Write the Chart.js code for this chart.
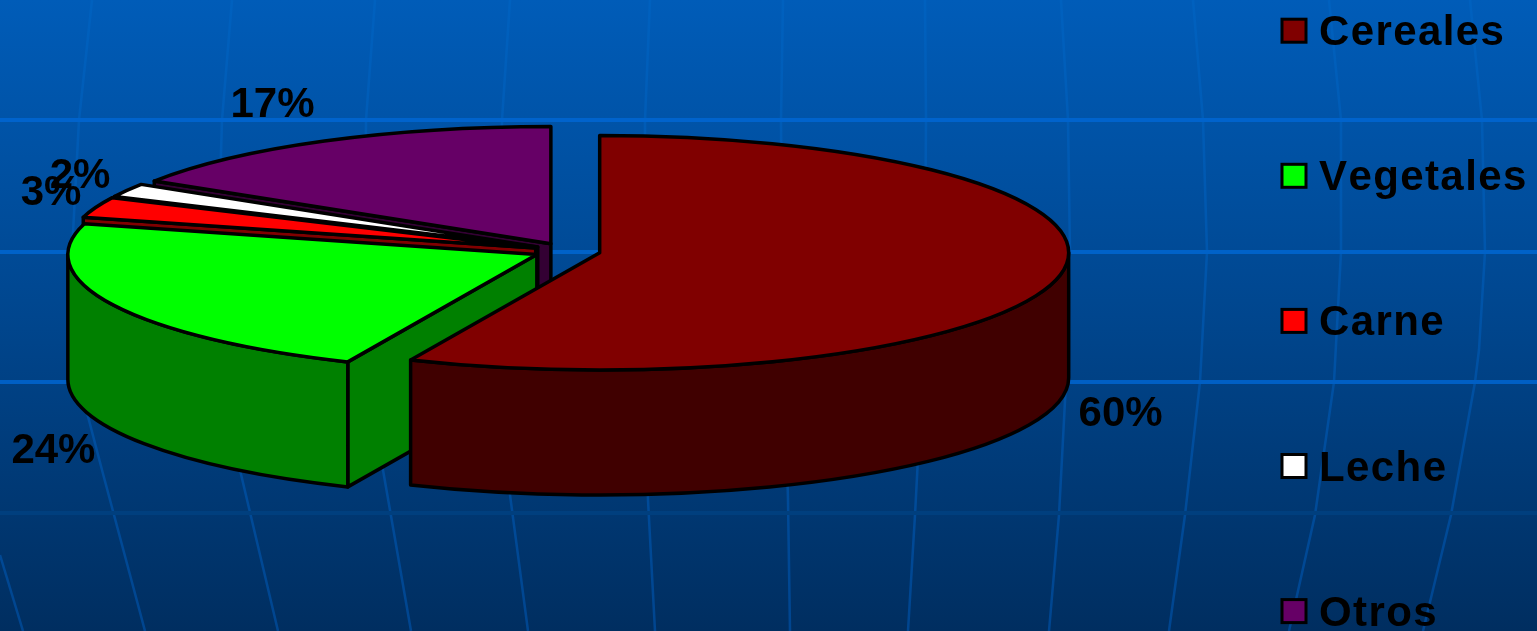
<!DOCTYPE html>
<html lang="es">
<head>
<meta charset="utf-8">
<title>Dieta</title>
<script src="https://cdn.jsdelivr.net/npm/chart.js@4"></script>
<style>
    html, body { margin: 0; padding: 0; background: #00468e; overflow: hidden; }
    canvas { display: block; }
</style>
</head>
<body>
<canvas id="dietChart" width="1537" height="631"></canvas>
<script>
// Data
const categories = ['Cereales', 'Vegetales', 'Carne', 'Leche', 'Otros'];
const values = [60, 24, 3, 2, 17];
const topColors = ['#800000', '#00ff00', '#ff0000', '#ffffff', '#660066'];
const sideColors = ['#400000', '#008000', '#800000', '#808080', '#330033'];

// Pie look
const RADIUS = 469;
const SQUASH = 0.25;
const DEPTH = 125;
const EXPLODE = 33.4;
const LABEL_NUDGE = [[62, 138], [-60, 146], [-45, -14], [-47, -14], [-52, -36]];

// Slide background: grid lines of the globe template
const MERIDIANS = [
    [[0, 555], [23, 631]],
    [[92, 0], [79, 120], [72, 252], [79, 382], [102, 470], [145, 631]],
    [[232, 0], [222, 120], [218, 252], [222, 382], [240, 470], [278, 631]],
    [[375, 0], [366, 120], [365, 252], [368, 382], [383, 470], [411, 631]],
    [[510, 0], [502, 120], [500, 252], [503, 382], [510, 495], [528, 631]],
    [[650, 0], [645, 120], [645, 252], [646, 382], [648, 500], [655, 631]],
    [[783, 0], [781, 120], [782, 252], [785, 382], [788, 500], [790, 631]],
    [[925, 0], [926, 120], [925, 252], [922, 382], [915, 515], [908, 631]],
    [[1061, 0], [1068, 120], [1070, 252], [1066, 382], [1059, 515], [1049, 631]],
    [[1193, 0], [1203, 120], [1207, 252], [1200, 382], [1185, 515], [1169, 631]],
    [[1329, 0], [1341, 120], [1341, 252], [1334, 382], [1315, 515], [1289, 631]],
    [[1470, 0], [1482, 120], [1485, 252], [1479, 350], [1475, 382], [1451, 515], [1423, 631]]
];
const PARALLELS = [[120, '#0063cc'], [252, '#0062c8'], [382, '#005fc4'], [513, '#003f7e']];

const slideBackground = {
    id: 'slideBackground',
    beforeDraw(chart) {
        const ctx = chart.ctx;
        const w = chart.width, h = chart.height;
        const bg = ctx.createLinearGradient(0, 0, 0, h);
        bg.addColorStop(0, '#005cb8');
        bg.addColorStop(0.5, '#00468e');
        bg.addColorStop(1, '#002e60');
        ctx.save();
        ctx.fillStyle = bg;
        ctx.fillRect(0, 0, w, h);

        const lineGrad = ctx.createLinearGradient(0, 0, 0, h);
        lineGrad.addColorStop(0, '#0061bf');
        lineGrad.addColorStop(1, '#00458f');
        ctx.strokeStyle = lineGrad;
        ctx.lineWidth = 2.5;
        MERIDIANS.forEach(pts => {
            ctx.beginPath();
            pts.forEach((p, i) => i ? ctx.lineTo(p[0], p[1]) : ctx.moveTo(p[0], p[1]));
            ctx.stroke();
        });
        ctx.lineWidth = 4;
        PARALLELS.forEach(p => {
            ctx.strokeStyle = p[1];
            ctx.beginPath();
            ctx.moveTo(0, p[0]);
            ctx.lineTo(w, p[0]);
            ctx.stroke();
        });
        ctx.restore();
    }
};

// Exploded pie with thickness. Geometry comes from the arc elements.
function sliceGeometry(arc) {
    const p = arc.getProps(['x', 'y', 'startAngle', 'endAngle', 'outerRadius']);
    const mid = (p.startAngle + p.endAngle) / 2;
    return {
        x: p.x,
        y: p.y,
        start: p.startAngle,
        end: p.endAngle,
        r: p.outerRadius,
        mid: mid,
        ox: p.x + Math.cos(mid) * EXPLODE,
        oy: p.y + Math.sin(mid) * EXPLODE * SQUASH
    };
}

function rimPoint(g, a) {
    return [g.ox + g.r * Math.cos(a), g.oy + g.r * SQUASH * Math.sin(a)];
}

function paint(ctx, fill) {
    ctx.fillStyle = fill;
    ctx.fill();
    ctx.stroke();
}

function drawRadialWall(ctx, g, a, fill) {
    const rim = rimPoint(g, a);
    ctx.beginPath();
    ctx.moveTo(g.ox, g.oy);
    ctx.lineTo(rim[0], rim[1]);
    ctx.lineTo(rim[0], rim[1] + DEPTH);
    ctx.lineTo(g.ox, g.oy + DEPTH);
    ctx.closePath();
    paint(ctx, fill);
}

function drawOuterWall(ctx, g, fill) {
    // only the part of the rim facing the viewer, canvas angles 0..PI
    [0, Math.PI * 2].forEach(shift => {
        const a0 = Math.max(g.start, shift);
        const a1 = Math.min(g.end, shift + Math.PI);
        if (a1 <= a0) return;
        ctx.beginPath();
        ctx.ellipse(g.ox, g.oy, g.r, g.r * SQUASH, 0, a0, a1);
        ctx.ellipse(g.ox, g.oy + DEPTH, g.r, g.r * SQUASH, 0, a1, a0, true);
        ctx.closePath();
        paint(ctx, fill);
    });
}

const pie3d = {
    id: 'pie3d',
    beforeDatasetsDraw(chart) {
        const ctx = chart.ctx;
        const arcs = chart.getDatasetMeta(0).data;
        // back to front: Otros, Leche, Carne, Vegetales, Cereales
        [4, 3, 2, 1, 0].forEach(i => {
            const arc = arcs[i];
            const g = sliceGeometry(arc);
            ctx.save();
            ctx.strokeStyle = '#000';
            ctx.lineWidth = 3.5;
            ctx.lineJoin = 'round';
            // cut faces: only the ones turned to the viewer
            if (Math.cos(g.start) < -1e-6) drawRadialWall(ctx, g, g.start, sideColors[i]);
            if (Math.cos(g.end) > 1e-6) drawRadialWall(ctx, g, g.end, sideColors[i]);
            drawOuterWall(ctx, g, sideColors[i]);

            // top face, the arc draws itself in the flattened space
            ctx.save();
            ctx.translate(g.ox, g.oy);
            ctx.scale(1, SQUASH);
            ctx.translate(-g.x, -g.y);
            arc.draw(ctx);
            ctx.restore();

            ctx.beginPath();
            ctx.moveTo(g.ox, g.oy);
            ctx.ellipse(g.ox, g.oy, g.r, g.r * SQUASH, 0, g.start, g.end);
            ctx.closePath();
            ctx.stroke();
            ctx.restore();
        });
        return false;
    },
    afterDraw(chart) {
        const ctx = chart.ctx;
        const arcs = chart.getDatasetMeta(0).data;
        ctx.save();
        ctx.fillStyle = '#000';
        ctx.font = 'bold 42px "Liberation Sans", Arial, sans-serif';
        ctx.textAlign = 'center';
        ctx.textBaseline = 'middle';
        arcs.forEach((arc, i) => {
            const g = sliceGeometry(arc);
            const rim = rimPoint(g, g.mid);
            ctx.fillText(values[i] + '%', rim[0] + LABEL_NUDGE[i][0], rim[1] + LABEL_NUDGE[i][1]);
        });
        ctx.restore();
    }
};

// The rows of the legend are taller than the page, so Chart.js' own legend would wrap them
const wideLegend = {
    id: 'wideLegend',
    afterDraw(chart) {
        const ctx = chart.ctx;
        ctx.save();
        ctx.font = 'bold 42px "Liberation Sans", Arial, sans-serif';
        ctx.letterSpacing = '1.4px';
        ctx.fontKerning = 'none';
        ctx.textBaseline = 'alphabetic';
        ctx.lineWidth = 3;
        categories.forEach((name, i) => {
            const y = 30.7 + i * 145.1;
            ctx.fillStyle = topColors[i];
            ctx.strokeStyle = '#000';
            ctx.fillRect(1282, y - 11.5, 24, 23);
            ctx.strokeRect(1282, y - 11.5, 24, 23);
            ctx.fillStyle = '#000';
            ctx.fillText(name, 1319, y + 14.5);
        });
        ctx.restore();
    }
};

new Chart(document.getElementById('dietChart'), {
    type: 'pie',
    data: {
        labels: categories,
        datasets: [{
            data: values,
            backgroundColor: topColors,
            borderWidth: 0
        }]
    },
    options: {
        responsive: false,
        animation: false,
        events: [],
        radius: RADIUS,
        layout: { padding: { left: 0, top: 0, right: 403, bottom: 129 } },
        plugins: {
            legend: { display: false },
            tooltip: { enabled: false }
        }
    },
    plugins: [slideBackground, pie3d, wideLegend]
});
</script>
</body>
</html>
